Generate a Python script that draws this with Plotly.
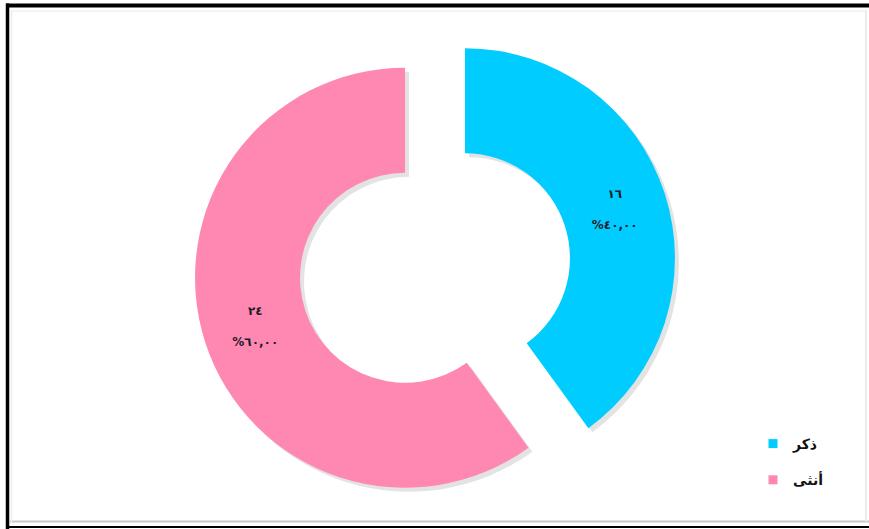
import plotly.graph_objects as go

# Gender distribution
labels = ["ذكر", "أنثى"]
counts = [16, 24]
colors = ["#00CCFF", "#FF88B2"]

W, H = 869, 529

AR_DIGITS = str.maketrans("0123456789", "٠١٢٣٤٥٦٧٨٩")


def ar(s):
    return s.translate(AR_DIGITS)


total = sum(counts)
slice_text = [
    ar(str(c)) + "<br><br>%" + ar(f"{c / total * 100:.2f}".replace(".", ","))
    for c in counts
]

# donut placement in pixels
cx, cy, half = 435, 268, 241.5
dom_x = [(cx - half) / W, (cx + half) / W]
dom_y = [(H - cy - half) / H, (H - cy + half) / H]
shift = 4
sh_x = [(cx - half + shift) / W, (cx + half + shift) / W]
sh_y = [(H - cy - half - shift) / H, (H - cy + half - shift) / H]

pull = [0.15, 0.15]

fig = go.Figure()

# soft drop shadow under the ring
fig.add_trace(go.Pie(
    labels=labels, values=counts, hole=0.5, sort=False,
    direction="clockwise", rotation=0, pull=pull,
    marker=dict(colors=["rgba(0,0,0,0.11)"] * 2, line=dict(width=0)),
    textinfo="none", hoverinfo="skip", showlegend=False,
    domain=dict(x=sh_x, y=sh_y),
))

fig.add_trace(go.Pie(
    labels=labels, values=counts, hole=0.5, sort=False,
    direction="clockwise", rotation=0, pull=pull,
    marker=dict(colors=colors, line=dict(width=0)),
    text=slice_text, textinfo="text", textposition="inside",
    insidetextorientation="horizontal",
    textfont=dict(family="DejaVu Sans", size=12, color="#1c1c2a", weight="bold"),
    showlegend=False,
    domain=dict(x=dom_x, y=dom_y),
))

# legend entries, one group per category so they can be spaced apart
for name, col in zip(labels, colors):
    fig.add_trace(go.Scatter(
        x=[None], y=[None], mode="markers", name=name,
        legendgroup=name,
        marker=dict(symbol="square", size=9, color=col),
    ))


def px_x(v):
    return v / W


def px_y(v):
    return 1 - v / H


shapes = [
    # outer frame
    dict(type="line", xref="paper", yref="paper",
         x0=px_x(6), x1=px_x(W), y0=px_y(5.5), y1=px_y(5.5),
         line=dict(color="black", width=4)),
    dict(type="line", xref="paper", yref="paper",
         x0=px_x(7.5), x1=px_x(7.5), y0=px_y(3.5), y1=px_y(H),
         line=dict(color="black", width=3.5)),
    dict(type="line", xref="paper", yref="paper",
         x0=px_x(6), x1=px_x(W), y0=px_y(527), y1=px_y(527),
         line=dict(color="black", width=2)),
    # inner light frame
    dict(type="line", xref="paper", yref="paper",
         x0=px_x(10), x1=px_x(W), y0=px_y(521.5), y1=px_y(521.5),
         line=dict(color="#c8c8c8", width=2)),
    dict(type="line", xref="paper", yref="paper",
         x0=px_x(866), x1=px_x(866), y0=px_y(10), y1=px_y(522),
         line=dict(color="#e4e4e4", width=1.5)),
    dict(type="line", xref="paper", yref="paper",
         x0=px_x(11.5), x1=px_x(11.5), y0=px_y(10), y1=px_y(522),
         line=dict(color="#ececec", width=1.5)),
    dict(type="line", xref="paper", yref="paper",
         x0=px_x(10), x1=px_x(866), y0=px_y(11), y1=px_y(11),
         line=dict(color="#f0f0f0", width=1.5)),
]

fig.update_layout(
    width=W, height=H,
    margin=dict(l=0, r=0, t=0, b=0),
    paper_bgcolor="white",
    plot_bgcolor="white",
    shapes=shapes,
    xaxis=dict(visible=False),
    yaxis=dict(visible=False),
    legend=dict(
        x=px_x(753), y=px_y(428), xanchor="left", yanchor="top",
        font=dict(family="DejaVu Sans", size=14, color="#111111", weight="bold"),
        bgcolor="rgba(0,0,0,0)", tracegroupgap=15, traceorder="grouped",
    ),
)

fig.write_html("out.html")
